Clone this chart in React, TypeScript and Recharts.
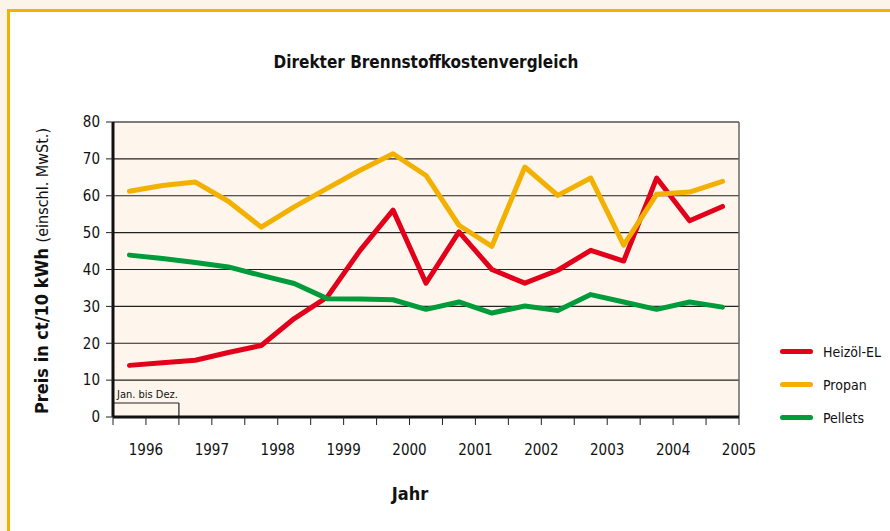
import React from "react";
import { LineChart, Line, XAxis, YAxis, CartesianGrid, ReferenceLine, Label } from "recharts";

// half-year periods, two per year
const PERIODS = [
  "1996 I", "1996 II", "1997 I", "1997 II", "1998 I", "1998 II", "1999 I", "1999 II",
  "2000 I", "2000 II", "2001 I", "2001 II", "2002 I", "2002 II", "2003 I", "2003 II",
  "2004 I", "2004 II", "2005 I",
];
const YEARS = ["1996", "1997", "1998", "1999", "2000", "2001", "2002", "2003", "2004", "2005"];
const Y_TICKS = [0, 10, 20, 30, 40, 50, 60, 70, 80];

const HEIZOEL = [14.0, 14.7, 15.4, 17.5, 19.4, 26.7, 32.5, 45.2, 56.1, 36.3, 50.2, 40.0, 36.3, 39.8, 45.2, 42.3, 64.8, 53.2, 57.1];
const PROPAN = [61.2, 62.8, 63.7, 58.5, 51.5, 57.0, 62.0, 66.9, 71.4, 65.5, 52.0, 46.3, 67.8, 60.1, 64.8, 46.6, 60.4, 61.0, 63.9];
const PELLETS = [43.9, 43.0, 41.9, 40.7, 38.4, 36.2, 32.1, 32.0, 31.8, 29.2, 31.2, 28.2, 30.1, 28.9, 33.2, 31.2, 29.2, 31.2, 29.8];

const data = PERIODS.map((p, i) => ({
  period: p,
  x: i + 0.5,
  heizoel: HEIZOEL[i],
  propan: PROPAN[i],
  pellets: PELLETS[i],
}));

const xTicks = Array.from({ length: PERIODS.length + 1 }, (_, i) => i);

const FONT = "'DejaVu Sans Condensed', 'DejaVu Sans', sans-serif";
const RED = "#e2001a";
const YELLOW = "#f2b000";
const GREEN = "#009b3a";

const series = [
  { key: "heizoel", name: "Heizöl-EL", color: RED },
  { key: "propan", name: "Propan", color: YELLOW },
  { key: "pellets", name: "Pellets", color: GREEN },
];

function LegendBox() {
  return (
    <div style={{ position: "absolute", left: 780, top: 335, fontFamily: FONT, fontSize: 14, color: "#111", whiteSpace: "nowrap" }}>
      {series.map((s) => (
        <div key={s.key} style={{ display: "flex", alignItems: "center", height: 33 }}>
          <div style={{ width: 33, height: 5, borderRadius: 3, background: s.color, marginRight: 10 }} />
          <span>{s.name}</span>
        </div>
      ))}
    </div>
  );
}

export default function App() {
  return (
    <div style={{ position: "absolute", left: 0, top: 0, width: 890, height: 531, background: "#fdf4e9", overflow: "hidden" }}>
      <div
        style={{
          position: "absolute",
          left: 7,
          top: 9,
          width: 900,
          height: 540,
          background: "#fff",
          borderLeft: "3px solid #f5b100",
          borderTop: "3px solid #f5b100",
        }}
      />
      <div
        style={{
          position: "absolute",
          left: 0,
          width: 852,
          top: 52,
          textAlign: "center",
          fontFamily: FONT,
          fontWeight: "bold",
          fontSize: 17,
          color: "#111",
        }}
      >
        Direkter Brennstoffkostenvergleich
      </div>
      <div style={{ position: "absolute", left: 0, top: 0 }}>
        <LineChart width={890} height={531} data={data} margin={{ top: 122, right: 151, bottom: 74, left: 53 }}>
          <CartesianGrid horizontal vertical={false} fill="#fef6ec" stroke="#222" strokeWidth={1.2} />
          <XAxis
            dataKey="x"
            type="number"
            domain={[0, PERIODS.length]}
            ticks={xTicks}
            interval={0}
            tickFormatter={(v: number) => (v % 2 === 1 ? YEARS[(v - 1) / 2] : "")}
            height={40}
            tickSize={8}
            tickMargin={19}
            axisLine={{ stroke: "#111", strokeWidth: 3 }}
            tickLine={{ stroke: "#222" }}
            tick={{ fill: "#111", fontSize: 15, fontFamily: FONT }}
          >
            <Label
              content={() => (
                <text x={410} y={500} textAnchor="middle" fill="#111" fontFamily={FONT} fontWeight="bold" fontSize={18}>
                  Jahr
                </text>
              )}
            />
          </XAxis>
          <YAxis
            type="number"
            domain={[0, 80]}
            ticks={Y_TICKS}
            interval={0}
            width={60}
            tickSize={7}
            tickMargin={6}
            axisLine={{ stroke: "#111", strokeWidth: 3 }}
            tickLine={{ stroke: "#222" }}
            tick={{ fill: "#111", fontSize: 15, fontFamily: FONT }}
          >
            <Label
              content={() => (
                <text
                  x={48}
                  y={271}
                  transform="rotate(-90 48 271)"
                  textAnchor="middle"
                  fill="#111"
                  fontFamily={FONT}
                  fontSize={16}
                >
                  <tspan fontWeight="bold" fontSize={18}>Preis in ct/10 kWh </tspan>
                  <tspan>(einschl. MwSt.)</tspan>
                </text>
              )}
            />
          </YAxis>
          <ReferenceLine y={80} stroke="#777" strokeWidth={1.5} />
          <ReferenceLine x={PERIODS.length} stroke="#666" strokeWidth={1.5} />
          <ReferenceLine
            segment={[{ x: 0, y: 3.8 }, { x: 2, y: 3.8 }]}
            stroke="#222"
            strokeWidth={1.2}
            label={{
              content: (props: any) => (
                <text x={props.viewBox.x + 4} y={props.viewBox.y - 5} fill="#111" fontFamily={FONT} fontSize={11}>
                  Jan. bis Dez.
                </text>
              ),
            }}
          />
          <ReferenceLine segment={[{ x: 2, y: 0 }, { x: 2, y: 3.8 }]} stroke="#222" strokeWidth={1.2} />
          {series.map((s) => (
            <Line
              key={s.key}
              dataKey={s.key}
              name={s.name}
              stroke={s.color}
              strokeWidth={5}
              strokeLinejoin="round"
              strokeLinecap="round"
              dot={false}
              activeDot={false}
              isAnimationActive={false}
            />
          ))}
        </LineChart>
      </div>
      <LegendBox />
    </div>
  );
}
